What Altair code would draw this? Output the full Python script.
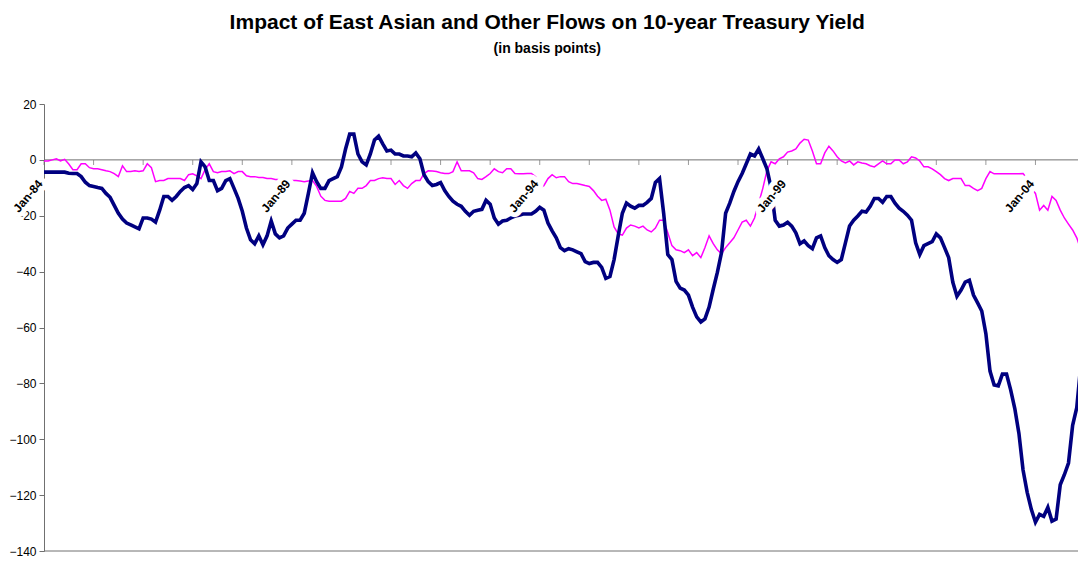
import altair as alt
import pandas as pd

# Monthly values, Jan-1984 onward (basis points)
east_asian = [
    -4.4, -4.4, -4.4, -4.4, -4.4, -4.4, -4.8, -4.9, -4.9, -6.0, -8.0, -9.2,
    -9.5, -9.9, -10.2, -12.0, -13.4, -16.3, -19.1, -21.2, -22.6, -23.3, -24.0, -24.7,
    -20.8, -20.8, -21.2, -22.3, -18.0, -13.1, -13.1, -14.5, -13.1, -11.3, -9.9, -9.2,
    -10.6, -8.5, -0.7, -2.5, -7.4, -7.4, -11.0, -10.2, -7.4, -6.7, -10.2, -13.8,
    -18.4, -24.4, -28.6, -30.0, -27.2, -30.4, -27.2, -21.9, -26.5, -27.9, -27.2, -24.4,
    -23.0, -21.6, -21.6, -19.1, -12.0, -4.6, -7.8, -10.2, -10.2, -7.4, -6.7, -6.0,
    -2.5, 3.9, 9.2, 9.2, 2.1, -0.7, -1.8, 2.1, 7.1, 8.5, 5.7, 3.2,
    3.5, 2.1, 2.1, 1.4, 1.4, 1.1, 2.5, 0.4, -5.3, -7.8, -9.2, -8.8,
    -8.1, -11.0, -13.1, -14.8, -15.9, -16.6, -18.4, -19.8, -18.4, -18.0, -17.7, -14.5,
    -15.9, -20.8, -23.0, -21.9, -21.6, -20.8, -20.1, -19.8, -19.4, -19.4, -19.4, -18.4,
    -17.0, -18.0, -22.6, -25.4, -27.9, -31.4, -32.5, -31.8, -32.2, -32.9, -33.6, -36.4,
    -37.1, -36.7, -36.7, -38.5, -42.4, -41.7, -35.7, -27.2, -19.1, -15.5, -16.6, -17.3,
    -16.3, -16.3, -15.2, -13.8, -8.1, -6.7, -19.1, -33.9, -35.7, -43.5, -45.9, -46.6,
    -48.4, -52.7, -56.2, -58.0, -56.9, -52.7, -46.3, -40.3, -33.2, -19.1, -15.5, -11.3,
    -7.8, -4.9, -1.4, 2.1, 1.4, 3.9, 0.4, -3.2, -10.0, -21.6, -23.7, -23.3,
    -22.3, -23.7, -26.1, -30.0, -29.0, -30.7, -31.8, -27.9, -27.2, -31.4, -34.3, -35.7,
    -36.7, -35.7, -29.7, -23.7, -21.6, -20.1, -18.4, -18.7, -16.6, -13.8, -13.8, -15.2,
    -13.1, -13.1, -15.5, -17.3, -18.4, -19.8, -21.6, -29.7, -33.9, -30.7, -30.0, -29.3,
    -26.5, -27.9, -31.4, -35.0, -43.8, -48.8, -46.6, -43.8, -43.1, -48.4, -51.2, -54.1,
    -62.2, -75.6, -80.6, -80.9, -76.7, -76.7, -82.3, -89.0, -97.9, -111.0, -119.0, -125.1,
    -129.7, -126.9, -127.6, -124.4, -129.3, -128.6, -116.3, -112.7, -108.5, -95.0, -88.7, -73.1,
    -66.1,
]

other_flows = [
    -0.4, -0.4, 0.0, 0.4, -0.4, 0.2, -1.5, -3.5, -3.5, -1.4, -1.4, -2.8,
    -3.2, -3.2, -3.5, -3.9, -4.2, -4.9, -6.0, -2.1, -4.2, -4.2, -3.9, -4.2,
    -3.9, -1.4, -2.8, -7.8, -7.4, -7.4, -6.7, -6.7, -6.7, -6.7, -7.4, -5.3,
    -5.0, -5.7, -6.7, -3.5, -1.4, -4.2, -4.6, -4.2, -4.2, -3.9, -4.9, -4.2,
    -4.2, -5.7, -6.0, -6.0, -6.3, -6.3, -6.7, -6.7, -7.0, -7.0, -7.2, -7.4,
    -7.4, -7.4, -7.6, -7.8, -7.6, -7.4, -9.5, -13.0, -14.5, -14.8, -14.8, -14.8,
    -14.8, -13.8, -11.3, -12.0, -10.2, -10.2, -9.2, -7.4, -7.4, -6.7, -6.4, -6.7,
    -6.7, -8.8, -7.4, -9.2, -10.2, -8.5, -7.4, -7.4, -4.9, -3.9, -4.0, -4.2,
    -4.6, -4.9, -4.9, -4.2, -0.7, -3.9, -3.9, -3.9, -4.6, -6.7, -7.0, -6.0,
    -4.9, -3.2, -4.2, -4.6, -3.2, -3.2, -4.9, -5.0, -5.0, -4.9, -4.9, -6.0,
    -10.0, -9.2, -6.7, -5.3, -6.4, -6.0, -6.0, -7.8, -8.5, -8.5, -8.8, -9.2,
    -9.5, -11.0, -13.0, -14.5, -14.1, -18.0, -24.0, -26.5, -26.9, -24.4, -23.3, -23.7,
    -24.4, -23.7, -25.1, -25.8, -24.4, -21.6, -21.6, -26.1, -30.7, -32.2, -32.5, -33.2,
    -32.2, -34.3, -33.2, -35.0, -31.4, -27.2, -30.0, -32.2, -33.6, -31.4, -29.7, -27.9,
    -25.1, -22.3, -21.6, -23.7, -20.8, -15.5, -10.2, -3.9, -0.7, -1.4, 0.4, 1.1,
    2.8, 3.2, 3.9, 6.0, 7.4, 7.1, 3.2, -1.4, -1.4, 2.5, 4.9, 3.2,
    1.1, -0.4, -1.1, -0.4, -1.8, -0.7, -1.1, -1.4, -2.1, -2.5, -1.4, -0.4,
    -1.4, -1.4, 0.0, 0.0, -1.4, -0.7, 1.1, 0.7, -0.4, -2.5, -2.5, -3.2,
    -4.2, -5.3, -6.7, -7.4, -6.7, -6.7, -6.7, -9.2, -9.2, -10.2, -11.0, -10.2,
    -6.7, -4.2, -5.0, -5.0, -5.0, -5.0, -5.0, -5.0, -5.0, -4.9, -6.7, -10.2,
    -12.0, -18.0, -16.3, -18.0, -13.1, -14.5, -18.0, -20.8, -23.0, -25.1, -27.9, -32.2,
    -30.7,
]

tick_months = list(range(0, 253, 12))
label_months = [0, 60, 120, 180, 240]
label_texts = ["Jan-84", "Jan-89", "Jan-94", "Jan-99", "Jan-04"]
y_ticks = list(range(-140, 21, 20))

FONT = "Liberation Sans"
NAVY = "#000080"
MAGENTA = "#FF00FF"
AXIS_GRAY = "#707070"

df = pd.DataFrame({
    "month": list(range(len(east_asian))),
    "east_asian": east_asian,
    "other": other_flows,
})
ticks_df = pd.DataFrame({"month": tick_months, "zero": [0] * len(tick_months)})
labels_df = pd.DataFrame({"month": label_months, "zero": [0] * len(label_months), "label": label_texts})

x_scale = alt.Scale(domain=[0, 250.3], nice=False, zero=False)
y_scale = alt.Scale(domain=[-140, 20], nice=False)

base = alt.Chart(df)

y_axis = alt.Axis(
    values=y_ticks, title=None, grid=False, tickSize=5, labelPadding=3,
    domainColor=AXIS_GRAY, tickColor=AXIS_GRAY, labelColor="black",
    labelFont=FONT, labelFontSize=12,
)

bottom_rule = alt.Chart(pd.DataFrame({"v": [-140]})).mark_rule(
    color=AXIS_GRAY, strokeWidth=1
).encode(y=alt.Y("v:Q", scale=y_scale, axis=y_axis))

zero_rule = alt.Chart(pd.DataFrame({"v": [0]})).mark_rule(
    color=AXIS_GRAY, strokeWidth=1
).encode(y=alt.Y("v:Q", scale=y_scale))

ticks = alt.Chart(ticks_df).mark_tick(
    orient="vertical", size=5, thickness=1, color=AXIS_GRAY, yOffset=2.5
).encode(
    x=alt.X("month:Q", scale=x_scale, axis=None),
    y=alt.Y("zero:Q", scale=y_scale),
)

other_line = base.mark_line(color=MAGENTA, strokeWidth=1.5, clip=True).encode(
    x=alt.X("month:Q", scale=x_scale, axis=None),
    y=alt.Y("other:Q", scale=y_scale),
)

ea_line = base.mark_line(color=NAVY, strokeWidth=3.6, clip=True).encode(
    x=alt.X("month:Q", scale=x_scale, axis=None),
    y=alt.Y("east_asian:Q", scale=y_scale),
)

label_enc = dict(
    x=alt.X("month:Q", scale=x_scale, axis=None),
    y=alt.Y("zero:Q", scale=y_scale),
    text="label:N",
)

label_style = dict(
    align="right", baseline="middle", angle=310, dx=-19, dy=11,
    font=FONT, fontSize=12, fontWeight="bold",
)

label_halo = alt.Chart(labels_df).mark_text(
    fill="white", stroke="white", strokeWidth=10, strokeJoin="round", **label_style
).encode(**label_enc)

label_text = alt.Chart(labels_df).mark_text(
    color="black", **label_style
).encode(**label_enc)

chart = alt.layer(
    bottom_rule, zero_rule, ticks, other_line, ea_line, label_halo, label_text
).properties(
    width=1034,
    height=447,
    autosize=alt.AutoSizeParams(type="none"),
    padding={"left": 36, "top": 96, "right": 0, "bottom": 6},
    title=alt.TitleParams(
        text="Impact of East Asian and Other Flows on 10-year Treasury Yield",
        subtitle="(in basis points)",
        font=FONT, fontSize=21, fontWeight="bold", color="black",
        subtitleFont=FONT, subtitleFontSize=14, subtitleFontWeight="bold",
        subtitleColor="black", subtitlePadding=9,
        anchor="middle", frame="bounds", offset=42,
    ),
).configure_view(stroke=None)

chart.save("out.html", embed_options={"renderer": "svg", "actions": False})
